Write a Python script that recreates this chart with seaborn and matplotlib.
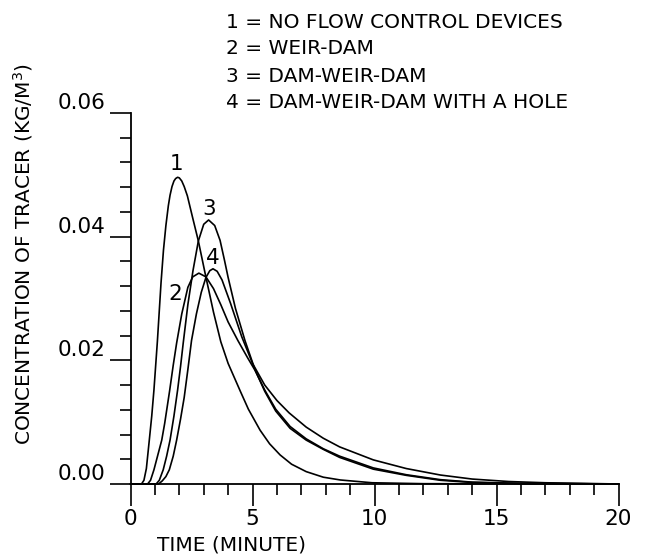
#!/usr/bin/env python
# encoding: utf-8

import pandas as pd
import matplotlib
matplotlib.use('Agg')
import matplotlib.pyplot as plt
import seaborn as sns

# Curve values (time in minutes, concentration in kg/m3)
t_1 = [0, 0.45, 0.55, 0.65, 0.77, 0.87, 0.96, 1.1, 1.25, 1.35, 1.45, 1.55, 1.62, 1.7, 1.78, 1.85,
       1.93, 2.0, 2.1, 2.2, 2.33, 2.55, 2.78, 3.05, 3.4, 3.7, 4.0, 4.5, 4.83, 5.31, 5.7, 6.13, 6.6,
       7.2, 7.9, 8.6, 9.9, 12.0, 20.0]
c_1 = [0, 0, 0.0006, 0.0025, 0.0071, 0.0110, 0.0152, 0.0230, 0.0325, 0.0378, 0.0418, 0.0450,
       0.0467, 0.0481, 0.0490, 0.0494, 0.0496, 0.0495, 0.0490, 0.0481, 0.0466, 0.0430, 0.0393,
       0.0342, 0.0278, 0.0230, 0.0195, 0.0150, 0.0121, 0.0087, 0.0065, 0.0047, 0.0032, 0.0020,
       0.0011, 0.00065, 0.0002, 0.00005, 0]

t_2 = [0, 0.7, 0.82, 0.96, 1.1, 1.28, 1.4, 1.5, 1.6, 1.75, 1.89, 2.1, 2.35, 2.55, 2.8, 3.09, 3.4,
       3.7, 4.0, 4.4, 4.8, 5.1, 5.5, 5.95, 6.54, 7.2, 7.9, 8.57, 9.95, 11.3, 12.7, 14.0, 16.0, 20.0]
c_2 = [0, 0, 0.0006, 0.0023, 0.0044, 0.0071, 0.0098, 0.0124, 0.0150, 0.0192, 0.0228, 0.0275, 0.0318,
       0.0335, 0.0341, 0.0335, 0.0316, 0.0290, 0.0262, 0.0232, 0.0204, 0.0184, 0.0152, 0.0121, 0.0093,
       0.0073, 0.0057, 0.0045, 0.0026, 0.0015, 0.0007, 0.0003, 0.0001, 0]

t_3 = [0, 1.05, 1.18, 1.34, 1.48, 1.62, 1.78, 1.93, 2.05, 2.16, 2.35, 2.56, 2.78, 3.0, 3.2, 3.45,
       3.67, 3.85, 4.0, 4.3, 4.69, 5.1, 5.5, 5.95, 6.54, 7.2, 7.9, 8.57, 9.95, 11.3, 12.7, 14.0, 16.0, 20.0]
c_3 = [0, 0, 0.0006, 0.0023, 0.0045, 0.0071, 0.0110, 0.0152, 0.0190, 0.0228, 0.0290, 0.0345, 0.0393,
       0.0420, 0.0427, 0.0418, 0.0394, 0.0362, 0.0334, 0.0284, 0.0232, 0.0185, 0.0150, 0.0118, 0.0090,
       0.0071, 0.0056, 0.0043, 0.0024, 0.0014, 0.0006, 0.00025, 0.0001, 0]

t_4 = [0, 1.15, 1.3, 1.45, 1.59, 1.75, 1.89, 2.05, 2.2, 2.35, 2.5, 2.7, 2.9, 3.09, 3.25, 3.38, 3.55,
       3.75, 4.1, 4.56, 5.0, 5.5, 6.0, 6.5, 7.2, 7.9, 8.57, 9.95, 11.3, 12.7, 14.0, 15.5, 17.0, 20.0]
c_4 = [0, 0, 0.0005, 0.0012, 0.0023, 0.0045, 0.0071, 0.0105, 0.0140, 0.0185, 0.0232, 0.0275, 0.0310,
       0.0334, 0.0345, 0.0348, 0.0344, 0.0330, 0.0292, 0.0238, 0.0195, 0.0160, 0.0135, 0.0115, 0.0092,
       0.0074, 0.0060, 0.0039, 0.0025, 0.00145, 0.0008, 0.0004, 0.0002, 0]

curve_ids = ['1', '2', '3', '4']
legend_lines = ['1 = NO FLOW CONTROL DEVICES',
                '2 = WEIR-DAM',
                '3 = DAM-WEIR-DAM',
                '4 = DAM-WEIR-DAM WITH A HOLE']
# where the curve numbers sit (time, concentration)
label_t = [1.9, 1.85, 3.22, 3.39]
label_c = [0.0518, 0.0308, 0.0445, 0.0366]

x_ticks = [0, 5, 10, 15, 20]
y_ticks = [0.00, 0.02, 0.04, 0.06]
y_tick_labels = ['0.00', '0.02', '0.04', '0.06']


def build_df():
    frames = []
    for cid, t, c in zip(curve_ids, [t_1, t_2, t_3, t_4], [c_1, c_2, c_3, c_4]):
        frames.append(pd.DataFrame({'time': t, 'conc': c, 'curve': cid}))
    return pd.concat(frames, ignore_index=True)


def main():
    df = build_df()

    sns.set_style('ticks')
    plt.rcParams['font.family'] = ['DejaVu Sans']
    plt.rcParams['text.color'] = 'black'
    plt.rcParams['axes.labelcolor'] = 'black'

    fig = plt.figure(figsize=(6.49, 5.56), dpi=100)
    ax = fig.add_axes([0.2011, 0.1295, 0.752, 0.6673])

    sns.lineplot(data=df, x='time', y='conc', units='curve', estimator=None,
                 color='black', linewidth=1.2, ax=ax, clip_on=False)

    ax.set_xlim(0, 20)
    ax.set_ylim(0, 0.06)
    sns.despine(ax=ax)
    for sp in ['left', 'bottom']:
        ax.spines[sp].set_linewidth(1.3)
        ax.spines[sp].set_color('black')

    ax.set_xticks(x_ticks)
    ax.set_xticks(range(0, 21), minor=True)
    ax.set_yticks(y_ticks)
    ax.set_yticks([i * 0.004 for i in range(16)], minor=True)
    ax.set_yticklabels(y_tick_labels)
    ax.tick_params(axis='both', which='both', direction='out', colors='black', width=1.2)
    ax.tick_params(axis='x', which='major', length=16, pad=2, labelsize=15.5)
    ax.tick_params(axis='x', which='minor', length=8)
    ax.tick_params(axis='y', which='major', length=15, pad=3, labelsize=15.5)
    ax.tick_params(axis='y', which='minor', length=8)
    plt.setp(ax.get_yticklabels(), va='bottom')

    ax.set_xlabel('TIME (MINUTE)', fontsize=14.5)
    ax.xaxis.set_label_coords(0.206, -0.14)
    ax.set_ylabel('CONCENTRATION OF TRACER (KG/M$^3$)', fontsize=14.5)
    ax.yaxis.set_label_coords(-0.195, 0.62)

    for cid, t, c in zip(curve_ids, label_t, label_c):
        ax.text(t, c, cid, ha='center', va='center', fontsize=15.5)

    for i, line in enumerate(legend_lines):
        fig.text(226 / 649, 1 - (22 + 27 * i) / 556, line, ha='left', va='center', fontsize=14.5)

    fig.savefig('out.png', dpi=100)


if __name__ == '__main__':
    main()
